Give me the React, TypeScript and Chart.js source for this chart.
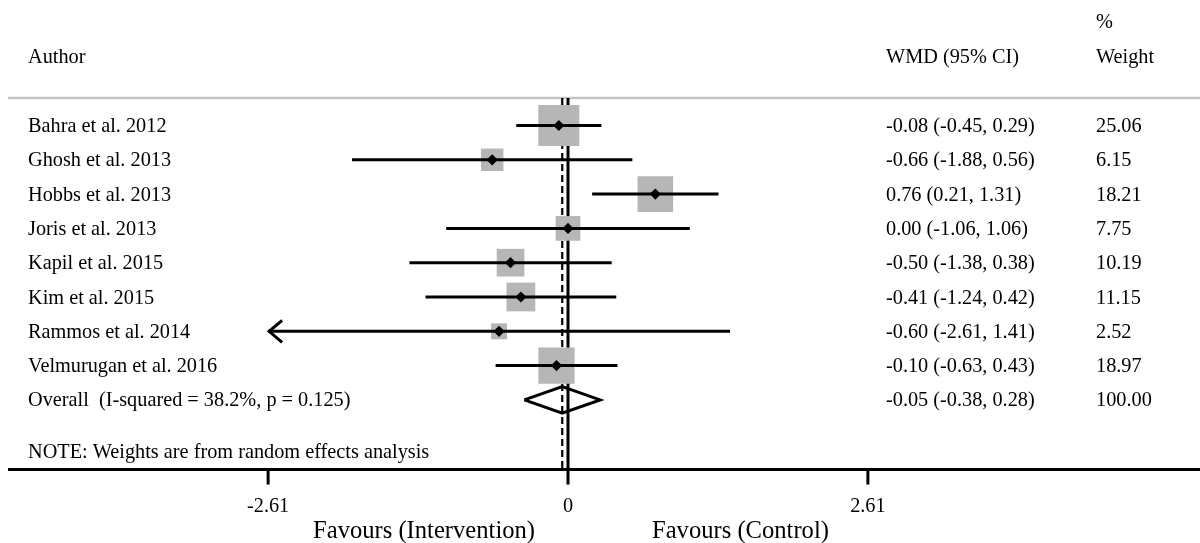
import React, { useEffect, useRef } from "react";
import { Chart, registerables } from "chart.js";

Chart.register(...registerables);

const authors = [
  "Bahra et al. 2012",
  "Ghosh et al. 2013",
  "Hobbs et al. 2013",
  "Joris et al. 2013",
  "Kapil et al. 2015",
  "Kim et al. 2015",
  "Rammos et al. 2014",
  "Velmurugan et al. 2016",
];
const estimates = [-0.08, -0.66, 0.76, 0.0, -0.5, -0.41, -0.6, -0.1];
const lowerCI = [-0.45, -1.88, 0.21, -1.06, -1.38, -1.24, -2.61, -0.63];
const upperCI = [0.29, 0.56, 1.31, 1.06, 0.38, 0.42, 1.41, 0.43];
const weights = [25.06, 6.15, 18.21, 7.75, 10.19, 11.15, 2.52, 18.97];

const overallLabel = "Overall  (I-squared = 38.2%, p = 0.125)";
const overallEstimate = -0.05;
const overallLower = -0.38;
const overallUpper = 0.28;
const overallWeight = 100.0;

const xTicks = [-2.61, 0, 2.61];
const xTickLabels = ["-2.61", "0", "2.61"];
const noteText = "NOTE: Weights are from random effects analysis";
const leftAxisTitle = "Favours (Intervention)";
const rightAxisTitle = "Favours (Control)";

const W = 1200;
const H = 543;
const ZERO_PX = 568;
const PX_PER_UNIT = 114.9;
const ROW0_PX = 125.5;
const ROW_PX = 34.3;
const TEXT_DY = 1.2;

const SERIF = '"Liberation Serif", "Times New Roman", serif';

const fmt = (v: number) => v.toFixed(2);

export default function App() {
  const ref = useRef<HTMLCanvasElement | null>(null);

  useEffect(() => {
    if (!ref.current) return;
    const n = authors.length;
    const overallRow = n;
    const axisRow = n + 2.03;
    const headerLineRow = -0.8;
    const axisMin = xTicks[0];
    const axisMax = xTicks[xTicks.length - 1];

    const ciDatasets = authors.map((_, i) => ({
      type: "line" as const,
      data: [
        { x: Math.max(lowerCI[i], axisMin), y: i },
        { x: Math.min(upperCI[i], axisMax), y: i },
      ],
      borderColor: "#000",
      borderWidth: 3,
      pointRadius: 0,
      showLine: true,
      order: 2,
    }));

    const diamondH = 0.39;
    const overallDiamond = {
      type: "line" as const,
      data: [
        { x: overallLower, y: overallRow },
        { x: overallEstimate, y: overallRow - diamondH },
        { x: overallUpper, y: overallRow },
        { x: overallEstimate, y: overallRow + diamondH },
        { x: overallLower, y: overallRow },
      ],
      borderColor: "#000",
      borderWidth: 3,
      pointRadius: 0,
      showLine: true,
      fill: false,
      tension: 0,
      borderJoinStyle: "miter" as const,
      order: 2,
    };

    const boxes = {
      type: "scatter" as const,
      data: estimates.map((v, i) => ({ x: v, y: i })),
      pointStyle: "rect" as const,
      pointRadius: weights.map((w) => (4.3 + 7.33 * Math.sqrt(w)) / Math.SQRT2),
      backgroundColor: "#b6b6b6",
      borderColor: "#b6b6b6",
      borderWidth: 0,
      order: 3,
    };

    const markers = {
      type: "scatter" as const,
      data: estimates.map((v, i) => ({ x: v, y: i })),
      pointStyle: "rectRot" as const,
      pointRadius: 5.6,
      backgroundColor: "#000",
      borderColor: "#000",
      borderWidth: 0,
      order: 1,
    };

    const forestPlugin = {
      id: "forest",
      beforeDatasetsDraw(chart: any) {
        const ctx = chart.ctx;
        const xs = chart.scales.x;
        const ys = chart.scales.y;
        const yTop = ys.getPixelForValue(headerLineRow);
        const yBot = ys.getPixelForValue(axisRow);
        ctx.save();
        // header line
        ctx.strokeStyle = "#c4c4c4";
        ctx.lineWidth = 2.5;
        ctx.beginPath();
        ctx.moveTo(8, yTop);
        ctx.lineTo(W, yTop);
        ctx.stroke();
        // zero line
        ctx.strokeStyle = "#000";
        ctx.lineWidth = 3;
        const x0 = xs.getPixelForValue(0);
        ctx.beginPath();
        ctx.moveTo(x0, yTop);
        ctx.lineTo(x0, yBot);
        ctx.stroke();
        // overall dashed line
        const xo = xs.getPixelForValue(overallEstimate);
        ctx.lineWidth = 2.2;
        ctx.setLineDash([7, 4]);
        ctx.beginPath();
        ctx.moveTo(xo, yTop);
        ctx.lineTo(xo, yBot);
        ctx.stroke();
        ctx.setLineDash([]);
        // axis line
        ctx.lineWidth = 3;
        ctx.beginPath();
        ctx.moveTo(8, yBot);
        ctx.lineTo(W, yBot);
        ctx.stroke();
        xTicks.forEach((t) => {
          const px = xs.getPixelForValue(t);
          ctx.beginPath();
          ctx.moveTo(px, yBot);
          ctx.lineTo(px, yBot + 15);
          ctx.stroke();
        });
        ctx.restore();
      },
      afterDatasetsDraw(chart: any) {
        const ctx = chart.ctx;
        const xs = chart.scales.x;
        const ys = chart.scales.y;
        ctx.save();
        // arrows for truncated CIs
        ctx.strokeStyle = "#000";
        ctx.lineWidth = 3;
        authors.forEach((_, i) => {
          const y = ys.getPixelForValue(i);
          if (lowerCI[i] <= axisMin) {
            const px = xs.getPixelForValue(axisMin);
            ctx.beginPath();
            ctx.moveTo(px + 14, y - 11);
            ctx.lineTo(px + 1, y);
            ctx.lineTo(px + 14, y + 11);
            ctx.stroke();
          }
          if (upperCI[i] > axisMax) {
            const px = xs.getPixelForValue(axisMax);
            ctx.beginPath();
            ctx.moveTo(px - 14, y - 11);
            ctx.lineTo(px - 1, y);
            ctx.lineTo(px - 14, y + 11);
            ctx.stroke();
          }
        });

        const ty = (row: number) => ys.getPixelForValue(row) + TEXT_DY;
        ctx.fillStyle = "#000";
        ctx.textBaseline = "middle";
        ctx.textAlign = "left";
        ctx.font = `20.3px ${SERIF}`;
        const labelX = 28;
        const ciX = 886;
        const wX = 1096;
        // header
        ctx.fillText("Author", labelX, ty(-2));
        ctx.fillText("WMD (95% CI)", ciX, ty(-2));
        ctx.fillText("Weight", wX, ty(-2));
        ctx.fillText("%", wX, ty(-3.02));
        authors.forEach((a, i) => {
          const y = ty(i);
          ctx.fillText(a, labelX, y);
          ctx.fillText(
            `${fmt(estimates[i])} (${fmt(lowerCI[i])}, ${fmt(upperCI[i])})`,
            ciX,
            y
          );
          ctx.fillText(fmt(weights[i]), wX, y);
        });
        const yo = ty(overallRow);
        ctx.fillText(overallLabel, labelX, yo);
        ctx.fillText(
          `${fmt(overallEstimate)} (${fmt(overallLower)}, ${fmt(overallUpper)})`,
          ciX,
          yo
        );
        ctx.fillText(fmt(overallWeight), wX, yo);
        ctx.fillText(noteText, labelX, ty(n + 1.51));
        // tick labels
        ctx.textAlign = "center";
        xTicks.forEach((t, k) => {
          ctx.fillText(xTickLabels[k], xs.getPixelForValue(t), ty(n + 3.09));
        });
        ctx.font = `24.6px ${SERIF}`;
        const x0 = xs.getPixelForValue(0);
        const yf = ty(n + 3.79);
        ctx.textAlign = "right";
        ctx.fillText(leftAxisTitle, x0 - 33, yf);
        ctx.textAlign = "left";
        ctx.fillText(rightAxisTitle, x0 + 84, yf);
        ctx.restore();
      },
    };

    const chart = new Chart(ref.current, {
      type: "scatter",
      data: {
        datasets: [markers as any, ...(ciDatasets as any), overallDiamond as any, boxes as any],
      },
      options: {
        animation: false,
        responsive: false,
        maintainAspectRatio: false,
        devicePixelRatio: 1,
        layout: { padding: 0, autoPadding: false } as any,
        plugins: { legend: { display: false }, tooltip: { enabled: false } },
        events: [],
        scales: {
          x: {
            type: "linear",
            display: false,
            min: -ZERO_PX / PX_PER_UNIT,
            max: (W - ZERO_PX) / PX_PER_UNIT,
          },
          y: {
            type: "linear",
            display: false,
            reverse: true,
            min: -ROW0_PX / ROW_PX,
            max: (H - ROW0_PX) / ROW_PX,
          },
        },
      },
      plugins: [forestPlugin],
    });
    return () => chart.destroy();
  }, []);

  return (
    <div style={{ position: "fixed", left: 0, top: 0, width: W, height: H, background: "#fff" }}>
      <canvas ref={ref} width={W} height={H} style={{ width: W, height: H, display: "block" }} />
    </div>
  );
}
